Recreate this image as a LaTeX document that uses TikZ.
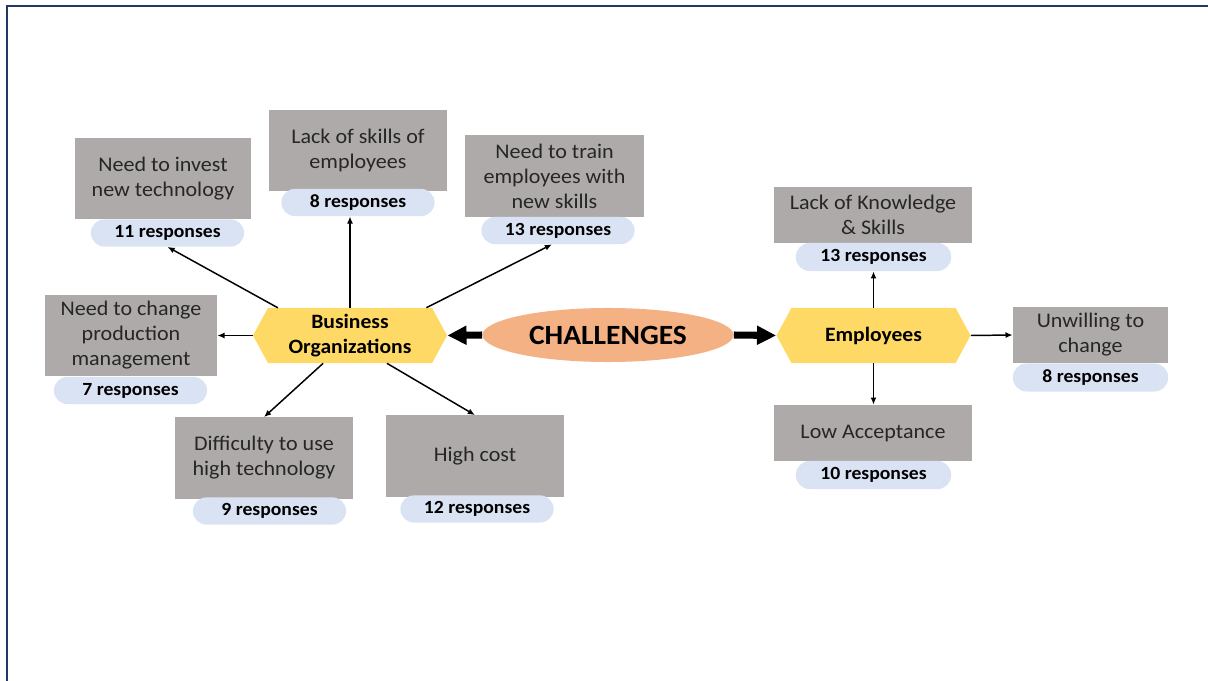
\documentclass[tikz,border=0pt]{standalone}
\usepackage{fontspec}
\setmainfont{Carlito}[FakeStretch=1.06]
\usepackage{tikz}
\usetikzlibrary{arrows.meta,shapes.geometric,shapes.symbols}
\definecolor{boxgray}{HTML}{AEAAAA}
\definecolor{pillblue}{HTML}{DAE3F3}
\definecolor{hexgold}{HTML}{FFD966}
\definecolor{challorange}{HTML}{F4B183}
\definecolor{framenavy}{HTML}{1F3864}

\begin{document}
\begin{tikzpicture}[x=0.025cm,y=-0.025cm,
    issue/.style={fill=boxgray, text=black!85, align=center, inner sep=2pt,
      font=\fontsize{14.8}{17.8}\selectfont, minimum width=4.45cm, minimum height=2.03cm},
    pill/.style={fill=pillblue, rounded corners=0.34cm, minimum width=3.83cm,
      minimum height=0.68cm, inner sep=0pt, font=\bfseries\fontsize{13.2}{16}\selectfont},
    hexa/.style={shape=signal, signal to=west and east, signal pointer angle=123,
      fill=hexgold, minimum width=4.85cm, minimum height=1.375cm, inner sep=0pt,
      align=center, font=\bfseries\fontsize{14.5}{17.8}\selectfont},
    link/.style={-{Latex[length=0.18cm,width=0.15cm]}, line width=1.05pt},
    bigarrow/.style={-{Triangle[length=0.48cm,width=0.45cm]}, line width=5pt}]
    \useasboundingbox (0,0) rectangle (1208,681);
    \draw[framenavy, line width=1.7pt] (7,681) -- (7,6) -- (1208,6);

    % centre
    \node[ellipse, fill=challorange, minimum width=6.275cm, minimum height=1.35cm, inner sep=0pt,
      font=\bfseries\fontsize{19.8}{24}\selectfont] (ch) at (608,335) {CHALLENGES};
    \node[hexa] (bus) at (350,335.5) {Business\\Organizations};
    \node[hexa] (emp) at (873.5,335.5) {Employees};

    % business organizations
    \node[issue, minimum width=4.4cm] (inv) at (163,178.5) {Need to invest\\new technology};
    \node[pill] (pinv) at (167.5,233) {11 responses};
    \node[issue] (lsk) at (358,150.5) {Lack of skills of\\employees};
    \node[pill] (plsk) at (358,202.5) {8 responses};
    \node[issue] (trn) at (554.5,176) {Need to train\\employees with\\new skills};
    \node[pill] (ptrn) at (558,230.5) {13 responses};
    \node[issue, minimum width=4.3cm] (chg) at (131,335.5) {Need to change\\production\\management};
    \node[pill] (pchg) at (130.5,390.5) {7 responses};
    \node[issue] (dif) at (264,458) {Difficulty to use\\high technology};
    \node[pill] (pdif) at (269.5,511) {9 responses};
    \node[issue] (cost) at (475,456) {High cost};
    \node[pill] (pcost) at (477,509) {12 responses};

    % employees
    \node[issue, minimum width=4.95cm, minimum height=1.4cm] (know) at (873,215) {Lack of Knowledge\\\& Skills};
    \node[pill, minimum width=3.88cm, minimum height=0.7cm] (pknow) at (873.5,257) {13 responses};
    \node[issue, minimum width=3.875cm, minimum height=1.4cm] (unw) at (1090.5,335) {Unwilling to\\change};
    \node[pill, minimum width=3.88cm, minimum height=0.7cm] (punw) at (1090.5,377.5) {8 responses};
    \node[issue, minimum width=4.95cm, minimum height=1.4cm] (low) at (873,433) {Low Acceptance};
    \node[pill, minimum width=3.88cm, minimum height=0.7cm] (plow) at (873.5,475) {10 responses};

    \draw[bigarrow] (ch.west) -- (bus.east);
    \draw[bigarrow] (ch.east) -- (emp.west);

    \draw[link] (bus.159) -- (pinv.south);
    \draw[link] (bus.north) -- (bus.north |- plsk.south);
    \draw[link] (bus.20) -- ([xshift=-0.15cm]ptrn.south);
    \draw[link] (bus.west) -- (chg.east);
    \draw[link] (bus.226) -- (dif.north);
    \draw[link] (bus.323) -- (cost.north);

    \draw[link] (emp.north) -- (emp.north |- pknow.south);
    \draw[link] (emp.south) -- (emp.south |- low.north);
    \draw[link] (emp.east) -- (unw.west);
\end{tikzpicture}
\end{document}
